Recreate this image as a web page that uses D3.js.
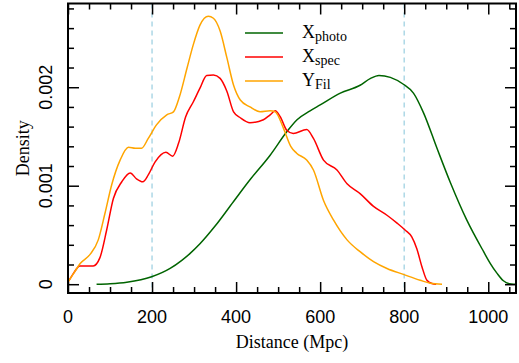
<!DOCTYPE html>
<html>
<head>
<meta charset="utf-8">
<script src="https://cdn.jsdelivr.net/npm/d3@7"></script>
<style>
  body { margin: 0; background: #fff; }
  svg { display: block; }
</style>
</head>
<body>
<svg id="chart" width="519" height="363"></svg>
<script>
// curves (distance in Mpc, density)
const photoDist = [68, 100, 140, 199, 243, 270, 290, 314, 350, 394, 433, 481, 521, 545, 576, 600, 648, 695, 720, 740, 767, 798, 822, 846, 878, 910, 949, 989, 1005, 1021, 1036, 1050, 1060, 1066];
const photoDens = [0, 0.000005, 0.00002, 0.000075, 0.00016, 0.00024, 0.00031, 0.00041, 0.00059, 0.00084, 0.00106, 0.00131, 0.00155, 0.00167, 0.00176, 0.00182, 0.00194, 0.00202, 0.00209, 0.00212, 0.0021, 0.00203, 0.00194, 0.00174, 0.00138, 0.00103, 0.00065, 0.00033, 0.00021, 0.00011, 0.000035, 0.000005, 0, 0];

const specDist = [0, 13, 28, 45, 60, 76, 92, 108, 128, 148, 163, 178, 191, 207, 233, 249, 263, 280, 298, 314, 330, 346, 362, 378, 394, 410, 433, 465, 481, 493, 505, 521, 536, 568, 584, 608, 640, 664, 695, 727, 759, 783, 802, 818, 830, 842, 854, 866, 876];
const specDens = [0.00002, 0.00011, 0.000185, 0.000186, 0.000186, 0.00027, 0.00055, 0.00087, 0.00104, 0.00113, 0.00107, 0.00104, 0.00111, 0.00124, 0.00134, 0.0013, 0.00143, 0.0017, 0.00185, 0.00199, 0.00212, 0.002125, 0.00209, 0.00196, 0.00175, 0.00169, 0.00164, 0.00167, 0.00172, 0.00176, 0.0017, 0.00156, 0.00153, 0.00157, 0.00148, 0.00126, 0.00116, 0.00102, 0.00092, 0.00079, 0.0007, 0.00062, 0.00055, 0.00048, 0.00036, 0.00018, 0.00004, 0.000007, 0];

const filDist = [0, 15, 29, 52, 72, 88, 104, 124, 144, 160, 175, 191, 211, 235, 251, 265, 283, 298, 314, 334, 346, 362, 378, 394, 410, 433, 457, 481, 493, 513, 530, 544, 568, 584, 608, 632, 664, 695, 727, 759, 798, 838, 862, 890];
const filDens = [0.00002, 0.00012, 0.00021, 0.0003, 0.00045, 0.00072, 0.00101, 0.00126, 0.00139, 0.00138, 0.00138, 0.00148, 0.00162, 0.00172, 0.00175, 0.0019, 0.00219, 0.00243, 0.00263, 0.00272, 0.0027, 0.00257, 0.0023, 0.00202, 0.00187, 0.0018, 0.00175, 0.00176, 0.00175, 0.00158, 0.0014, 0.00133, 0.00126, 0.00116, 0.00085, 0.00065, 0.00045, 0.00033, 0.00023, 0.00016, 0.0001, 0.00004, 0.00001, 0];

const seriesNames = ['photo', 'spec', 'Fil'];
const seriesLetters = ['X', 'X', 'Y'];
const seriesColours = ['#006400', '#ff0000', '#ffa500'];
const refLines = [200, 800];
const xMajor = [0, 200, 400, 600, 800, 1000];
const yMajor = [0, 0.001, 0.002];
const yLabels = ['0', '0.001', '0.002'];

const svg = d3.select('#chart');
const plot = { left: 68, right: 516, top: 3.5, bottom: 293 };

const x = d3.scaleLinear().domain([0, 1066]).range([plot.left, plot.right]);
const y = d3.scaleLinear().domain([-0.0000893, 0.00285]).range([plot.bottom, plot.top]);

const serif = 'Liberation Serif, Times New Roman, serif';
const sans = 'Liberation Sans, Arial, sans-serif';

svg.append('clipPath').attr('id', 'plotclip')
  .append('rect')
  .attr('x', plot.left).attr('y', plot.top)
  .attr('width', plot.right - plot.left).attr('height', plot.bottom - plot.top);

// reference lines
svg.append('g').selectAll('line').data(refLines).join('line')
  .attr('x1', d => x(d)).attr('x2', d => x(d))
  .attr('y1', plot.top).attr('y2', plot.bottom)
  .attr('stroke', '#add8e6').attr('stroke-width', 1.5)
  .attr('stroke-dasharray', '5,4');

// curves
const series = [
  { dist: photoDist, dens: photoDens },
  { dist: specDist, dens: specDens },
  { dist: filDist, dens: filDens }
];
const line = d3.line()
  .x(d => x(d[0]))
  .y(d => y(d[1]))
  .curve(d3.curveMonotoneX);

svg.append('g').attr('clip-path', 'url(#plotclip)')
  .selectAll('path').data(series).join('path')
  .attr('d', s => line(s.dist.map((d, i) => [d, s.dens[i]])))
  .attr('fill', 'none')
  .attr('stroke', (s, i) => seriesColours[i])
  .attr('stroke-width', 1.5);

// ticks, pointing inward on all four sides
const xMinor = d3.range(0, 1051, 50).filter(d => !xMajor.includes(d));
const yMinor = d3.range(0, 0.00281, 0.0002).filter(d => !yMajor.some(m => Math.abs(m - d) < 1e-9));

function tickAxis(axisFn, scale, values, size, tx, ty) {
  const g = svg.append('g')
    .attr('transform', `translate(${tx},${ty})`)
    .call(axisFn(scale).tickValues(values).tickSize(size).tickFormat(''));
  g.select('.domain').remove();
  g.selectAll('.tick line').attr('stroke', '#000').attr('stroke-width', 1.5);
  return g;
}

tickAxis(d3.axisBottom, x, xMinor, -6, 0, plot.bottom);
tickAxis(d3.axisBottom, x, xMajor, -11, 0, plot.bottom);
tickAxis(d3.axisTop, x, xMinor, -6, 0, plot.top);
tickAxis(d3.axisTop, x, xMajor, -11, 0, plot.top);
tickAxis(d3.axisLeft, y, yMinor, -6, plot.left, 0);
tickAxis(d3.axisLeft, y, yMajor, -11, plot.left, 0);
tickAxis(d3.axisRight, y, yMinor, -6, plot.right, 0);
tickAxis(d3.axisRight, y, yMajor, -11, plot.right, 0);

// tick labels
svg.append('g').selectAll('text').data(xMajor).join('text')
  .attr('x', d => x(d)).attr('y', 323)
  .attr('text-anchor', 'middle')
  .attr('font-family', sans).attr('font-size', 18)
  .text(d => d);

svg.append('g').selectAll('text').data(yMajor).join('text')
  .attr('transform', d => `translate(52,${y(d)}) rotate(-90)`)
  .attr('text-anchor', 'middle')
  .attr('font-family', sans).attr('font-size', 18)
  .text((d, i) => yLabels[i]);

// frame
svg.append('rect')
  .attr('x', plot.left).attr('y', plot.top)
  .attr('width', plot.right - plot.left).attr('height', plot.bottom - plot.top)
  .attr('fill', 'none').attr('stroke', '#000').attr('stroke-width', 2);

// axis titles
svg.append('text')
  .attr('x', (plot.left + plot.right) / 2).attr('y', 348)
  .attr('text-anchor', 'middle')
  .attr('font-family', serif).attr('font-size', 18)
  .text('Distance (Mpc)');

svg.append('text')
  .attr('transform', `translate(29,${(plot.top + plot.bottom) / 2}) rotate(-90)`)
  .attr('text-anchor', 'middle')
  .attr('font-family', serif).attr('font-size', 18)
  .text('Density');

// legend
const legend = svg.append('g');
const legendY = [33, 57, 81];
legend.selectAll('line').data(seriesNames).join('line')
  .attr('x1', 245).attr('x2', 283)
  .attr('y1', (d, i) => legendY[i]).attr('y2', (d, i) => legendY[i])
  .attr('stroke', (d, i) => seriesColours[i]).attr('stroke-width', 1.5);

const labels = legend.selectAll('text').data(seriesNames).join('text')
  .attr('x', 302).attr('y', (d, i) => legendY[i] + 4.5)
  .attr('font-family', serif).attr('font-size', 18);
labels.append('tspan').text((d, i) => seriesLetters[i]);
labels.append('tspan').attr('font-size', 14).attr('dy', 3).text(d => d);
</script>
</body>
</html>
